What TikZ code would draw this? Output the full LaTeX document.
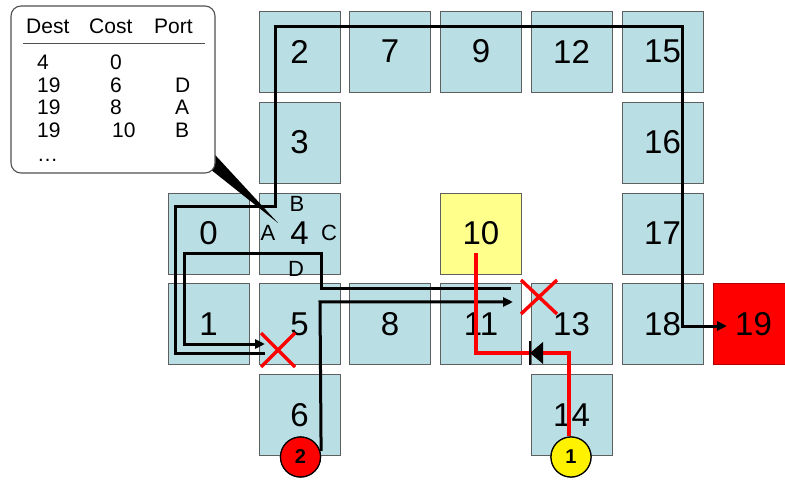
\documentclass[tikz,border=0pt]{standalone}
\usepackage{fontspec}
\setmainfont{Liberation Sans}
\usetikzlibrary{arrows.meta,calc}
\definecolor{boxblue}{RGB}{185,222,227}
\definecolor{boxedge}{RGB}{95,95,95}
\definecolor{boxyellow}{RGB}{255,255,140}
\definecolor{calloutedge}{RGB}{80,80,80}
\begin{document}
\begin{tikzpicture}[x=1pt,y=-1pt,
  cell/.style={draw=boxedge, line width=0.8pt, fill=boxblue, minimum width=81pt, minimum height=81pt, inner sep=0pt, font=\fontsize{33}{33}\selectfont},
  route/.style={line width=3pt, black},
  arrowtip/.style={-{Triangle[length=10pt,width=9pt]}},
  redroute/.style={line width=4pt, red},
  cross/.style={line width=3.4pt, red},
  port/.style={font=\fontsize{22}{22}\selectfont, inner sep=0pt},
  tab/.style={font=\fontsize{21}{21}\selectfont, inner sep=0pt, anchor=base west},
  ball/.style={circle, draw=black, line width=1.2pt, minimum size=40pt, inner sep=0pt, font=\fontsize{20}{20}\selectfont\bfseries},
]
\useasboundingbox (0,0) rectangle (785,481);
\clip (0,0) rectangle (785,481);
\fill[white] (0,0) rectangle (785,481);

% cells
\node[cell] (b2)  at (299.5,51.5) {2};
\node[cell] (b7)  at (390,51.5) {7};
\node[cell] (b9)  at (481,51.5) {9};
\node[cell] (b12) at (571.5,51.5) {12};
\node[cell] (b15) at (662.5,51.5) {15};
\node[cell] (b3)  at (299.5,142.5) {3};
\node[cell] (b16) at (662.5,142.5) {16};
\node[cell] (b0)  at (208.5,233.5) {0};
\node[cell] (b4)  at (299.5,233.5) {4};
\node[cell, fill=boxyellow] (b10) at (481,233.5) {10};
\node[cell] (b17) at (662.5,233.5) {17};
\node[cell] (b1)  at (208.5,324) {1};
\node[cell] (b5)  at (299.5,324) {5};
\node[cell] (b8)  at (390,324) {8};
\node[cell] (b11) at (481,324) {11};
\node[cell] (b13) at (571.5,324) {13};
\node[cell] (b18) at (662.5,324) {18};
\node[cell, fill=red, draw=red!70!black] (b19) at (753.5,324) {19};
\node[cell] (b6)  at (299.5,415) {6};
\node[cell] (b14) at (571.5,415) {14};

% port labels of node 4
\node[port] (pB) at (297,204) {B};
\node[port] (pA) at (268,233) {A};
\node[port] (pC) at (329,233) {C};
\node[port] (pD) at (296,269) {D};

% source circles
\node[ball, fill=red] (c2) at (300.5,457) {2};
\node[ball, fill=yellow] (c1) at (571,457) {1};

% route corners
\coordinate (q1) at (320,302);
\coordinate (q2) at (513,302);
\coordinate (r1) at (511,289);
\coordinate (r2) at (321,289);
\coordinate (r3) at (321,254);
\coordinate (r4) at (184,254);
\coordinate (r5) at (184,344);
\coordinate (r6) at (265,344);
\coordinate (s1) at (265,353);
\coordinate (s2) at (175,353);
\coordinate (s3) at (175,207);
\coordinate (s4) at (275,207);
\coordinate (s5) at (275,27);
\coordinate (s6) at (682,27);
\coordinate (s7) at (682,326);
\coordinate (s8) at (727,326);

% black routes
\draw[route, arrowtip] (c2.east |- c2.center) ++(0,-6) -- (q1) -- (q2);
\draw[route, arrowtip] (r1) -- (r2) -- (r3) -- (r4) -- (r5) -- (r6);
\draw[route, arrowtip] (s1) -- (s2) -- (s3) -- (s4) -- (s5) -- (s6) -- (s7) -- (s8);

% red route
\coordinate (t1) at (476,253);
\coordinate (t2) at (476,353);
\coordinate (t3) at (569,353);
\draw[redroute] (c1.north -| t3) -- (t3) -- (t2) -- (t1);

% blocking marker on red route
\coordinate (m1) at (530,353);
\fill[black] (543,342) -- (543,364) -- (m1) -- cycle;
\draw[black, line width=2.8pt] (530,341) -- (530,365);

% redraw circles on top
\node[ball, fill=red] at (c2) {2};
\node[ball, fill=yellow] at (c1) {1};

% red crosses
\coordinate (x5) at (278,350);
\coordinate (x13) at (539,297);
\draw[cross] ($(x5)+(-17,-17)$) -- ($(x5)+(17,17)$);
\draw[cross] ($(x5)+(17,-17)$) -- ($(x5)+(-17,17)$);
\draw[cross] ($(x13)+(-18,-17)$) -- ($(x13)+(18,17)$);
\draw[cross] ($(x13)+(18,-17)$) -- ($(x13)+(-18,17)$);

% callout
\coordinate (wtip) at (278,223);
\fill[black] (205,144) -- (205,165) -- (wtip) -- cycle;
\draw[calloutedge, line width=1.1pt, fill=white, rounded corners=10pt] (11,6) rectangle (215,173);
\node[tab] (h1) at (26,34) {Dest};
\node[tab] (h2) at (89,34) {Cost};
\node[tab] (h3) at (154,34) {Port};
\draw[calloutedge, line width=0.9pt] (23,43) -- (205,43);
\node[tab] at (37,70) {4};
\node[tab] at (110,70) {0};
\node[tab] at (37,92.5) {19};
\node[tab] at (110,92.5) {6};
\node[tab] at (175,92.5) {D};
\node[tab] at (37,115) {19};
\node[tab] at (110,115) {8};
\node[tab] at (175,115) {A};
\node[tab] at (37,138) {19};
\node[tab] at (112,138) {10};
\node[tab] at (175,138) {B};
\node[tab] at (37,162) {\dots};
\end{tikzpicture}
\end{document}
